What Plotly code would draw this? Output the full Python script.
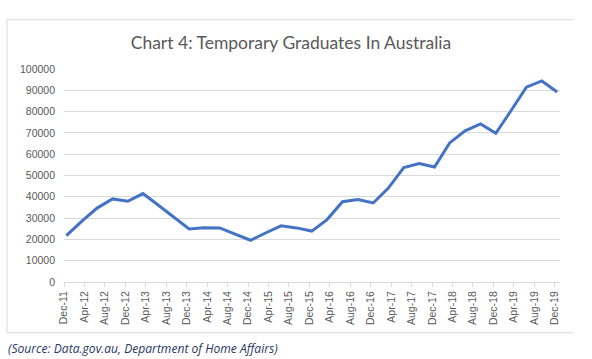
import plotly.graph_objects as go

# Quarterly observations
dates = [
    "2011-12-15", "2012-03-15", "2012-06-15", "2012-09-15", "2012-12-15",
    "2013-03-15", "2013-06-15", "2013-09-15", "2013-12-15",
    "2014-03-15", "2014-06-15", "2014-09-15", "2014-12-15",
    "2015-03-15", "2015-06-15", "2015-09-15", "2015-12-15",
    "2016-03-15", "2016-06-15", "2016-09-15", "2016-12-15",
    "2017-03-15", "2017-06-15", "2017-09-15", "2017-12-15",
    "2018-03-15", "2018-06-15", "2018-09-15", "2018-12-15",
    "2019-03-15", "2019-06-15", "2019-09-15", "2019-12-15",
]
graduates = [
    21750, 28500, 34700, 39000, 37900,
    41500, 36000, 30400, 24900,
    25500, 25400, 22500, 19600,
    23000, 26400, 25400, 23900,
    29300, 37700, 38700, 37100,
    44100, 53700, 55600, 54000,
    65300, 71000, 74200, 69800,
    80400, 91500, 94400, 89200,
]

tick_dates = [
    "2011-12-01", "2012-04-01", "2012-08-01", "2012-12-01", "2013-04-01",
    "2013-08-01", "2013-12-01", "2014-04-01", "2014-08-01", "2014-12-01",
    "2015-04-01", "2015-08-01", "2015-12-01", "2016-04-01", "2016-08-01",
    "2016-12-01", "2017-04-01", "2017-08-01", "2017-12-01", "2018-04-01",
    "2018-08-01", "2018-12-01", "2019-04-01", "2019-08-01", "2019-12-01",
]
tick_labels = [
    "Dec-11", "Apr-12", "Aug-12", "Dec-12", "Apr-13", "Aug-13", "Dec-13",
    "Apr-14", "Aug-14", "Dec-14", "Apr-15", "Aug-15", "Dec-15", "Apr-16",
    "Aug-16", "Dec-16", "Apr-17", "Aug-17", "Dec-17", "Apr-18", "Aug-18",
    "Dec-18", "Apr-19", "Aug-19", "Dec-19",
]

W, H = 592, 359
L, R = 64, 560
T, B = 69.3, 282.3

def px(x):
    return (x - L) / (R - L)

def py(y):
    return (B - y) / (B - T)

fig = go.Figure()
fig.add_trace(go.Scatter(
    x=dates, y=graduates, mode="lines",
    line=dict(color="#4472C4", width=3),
    hoverinfo="x+y",
))

grid = "#D9D9D9"
border = "#D9D9D9"
shapes = [
    dict(type="line", xref="paper", yref="paper", x0=px(7), x1=px(7), y0=py(20), y1=py(333),
         line=dict(color=border, width=1)),
    dict(type="line", xref="paper", yref="paper", x0=px(7), x1=px(573), y0=py(20), y1=py(20),
         line=dict(color=border, width=1)),
    dict(type="line", xref="paper", yref="paper", x0=px(7), x1=px(573), y0=py(333), y1=py(333),
         line=dict(color=border, width=1)),
]

fig.update_layout(
    width=W, height=H,
    margin=dict(l=L, r=W - R, t=T, b=H - B),
    paper_bgcolor="white", plot_bgcolor="white",
    showlegend=False,
    title=dict(
        text="Chart 4: Temporary Graduates In Australia",
        xref="container", x=291 / W, xanchor="center",
        yref="container", y=1 - 43 / H, yanchor="middle",
        font=dict(family="Lato, Open Sans, sans-serif", size=17.5, color="#595959"),
    ),
    shapes=shapes,
    annotations=[
        dict(text="<i>(Source: Data.gov.au, Department of Home Affairs)</i>",
             xref="paper", yref="paper", x=px(6), y=py(349),
             xanchor="left", yanchor="middle", showarrow=False,
             font=dict(family="Open Sans, sans-serif", size=12.1, color="#1F3864"),
             ),
    ],
    xaxis=dict(
        type="date",
        range=["2011-12-01", "2020-01-01"],
        tickmode="array", tickvals=tick_dates, ticktext=tick_labels,
        tickangle=-90,
        showgrid=False, zeroline=False,
        showline=True, linecolor=grid, linewidth=1,
        ticks="outside", ticklen=4, tickcolor=grid, tickwidth=1,
        tickfont=dict(family="Liberation Sans, Arial, sans-serif", size=10.5, color="#595959"),
        fixedrange=True,
    ),
    yaxis=dict(
        range=[0, 100000], dtick=10000, tick0=0,
        tickformat="d",
        showgrid=True, gridcolor=grid, gridwidth=1,
        zeroline=False, showline=False,
        ticks="", ticklabelstandoff=8,
        tickfont=dict(family="Liberation Sans, Arial, sans-serif", size=10.5, color="#595959"),
        fixedrange=True,
    ),
)

fig.write_html(
    "out.html",
    config={"displayModeBar": False},
    post_script="document.body.style.margin='0';document.body.style.overflow='hidden';",
)
